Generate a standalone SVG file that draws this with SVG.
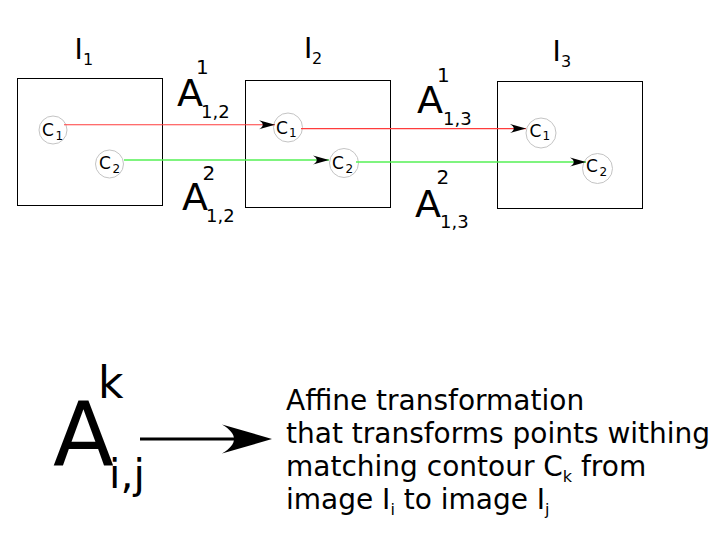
<svg xmlns="http://www.w3.org/2000/svg" width="715" height="556" viewBox="0 0 715 556">
<style>
text { font-family: "DejaVu Sans", "Liberation Sans", sans-serif; fill: #000; }
.box { fill: none; stroke: #000; stroke-width: 1; }
.ctr { fill: none; stroke: #c4c4c4; stroke-width: 1; }
.cl { font-size: 17px; }
.cs { font-size: 12px; }
.il { font-size: 28px; }
.is { font-size: 16px; }
.al { font-size: 38px; }
.as { font-size: 20px; }
.ab { font-size: 18px; }
.red { stroke: #ff3c3c; stroke-width: 1.1; fill: none; }
.grn { stroke: #55f055; stroke-width: 1.5; fill: none; }
.desc { font-size: 28px; }
.sub { font-size: 16px; }
</style>
<defs>
<marker id="ah" viewBox="-17 -5 18 10" markerWidth="18" markerHeight="10" refX="0" refY="0" orient="auto" markerUnits="userSpaceOnUse">
<path d="M0,0 L-16,-4.5 C-11,-1.5 -11,1.5 -16,4.5 Z" fill="#000"/>
</marker>
</defs>

<g id="image1">
<rect class="box" x="17.5" y="78.5" width="145" height="127"/>
<text class="il" x="74.5" y="59">I<tspan class="is" x="83" y="65">1</tspan></text>
</g>
<g id="image2">
<rect class="box" x="245.5" y="80.5" width="145" height="127"/>
<text class="il" x="304" y="58">I<tspan class="is" x="312" y="64">2</tspan></text>
</g>
<g id="image3">
<rect class="box" x="497.5" y="81.5" width="145" height="127"/>
<text class="il" x="552.5" y="61">I<tspan class="is" x="561" y="67">3</tspan></text>
</g>

<g id="c1-i1"><circle class="ctr" cx="53" cy="130" r="14"/><text class="cl" x="42" y="136">C<tspan class="cs" x="55.5" y="140">1</tspan></text></g>
<g id="c2-i1"><circle class="ctr" cx="109.5" cy="164" r="14"/><text class="cl" x="99" y="169">C<tspan class="cs" x="112.5" y="173">2</tspan></text></g>
<g id="c1-i2"><circle class="ctr" cx="288" cy="127.5" r="14.5"/><text class="cl" x="276" y="133.5">C<tspan class="cs" x="289" y="137">1</tspan></text></g>
<g id="c2-i2"><circle class="ctr" cx="344" cy="163" r="14.5"/><text class="cl" x="332" y="169">C<tspan class="cs" x="345.5" y="173">2</tspan></text></g>
<g id="c1-i3"><circle class="ctr" cx="541" cy="133" r="15"/><text class="cl" x="529.5" y="136.5">C<tspan class="cs" x="542.5" y="140">1</tspan></text></g>
<g id="c2-i3"><circle class="ctr" cx="597.5" cy="168.5" r="15"/><text class="cl" x="586" y="172">C<tspan class="cs" x="599.5" y="176">2</tspan></text></g>

<g id="connectors">
<line class="red" x1="64" y1="124.8" x2="275" y2="124.8" marker-end="url(#ah)"/>
<line class="red" x1="301" y1="128.6" x2="526" y2="128.6" marker-end="url(#ah)"/>
<line class="grn" x1="124" y1="160" x2="329" y2="160" marker-end="url(#ah)"/>
<line class="grn" x1="356" y1="162" x2="586" y2="162" marker-end="url(#ah)"/>
</g>

<g id="label-a1-12"><text class="al" x="177" y="106">A<tspan class="as" x="196" y="74">1</tspan><tspan class="ab" x="201" y="118">1,2</tspan></text></g>
<g id="label-a2-12"><text class="al" x="182" y="210">A<tspan class="as" x="202.5" y="180">2</tspan><tspan class="ab" x="206" y="221.5">1,2</tspan></text></g>
<g id="label-a1-13"><text class="al" x="417" y="113">A<tspan class="as" x="437" y="82">1</tspan><tspan class="ab" x="443" y="125">1,3</tspan></text></g>
<g id="label-a2-13"><text class="al" x="415" y="217">A<tspan class="as" x="436.5" y="184">2</tspan><tspan class="ab" x="440" y="228">1,3</tspan></text></g>

<g id="legend-symbol">
<text x="53" y="466" font-size="89">A<tspan x="98" y="398" font-size="44">k</tspan><tspan x="109" y="488" font-size="41">i,j</tspan></text>
</g>
<g id="legend-arrow">
<line x1="140" y1="439" x2="240" y2="439" stroke="#000" stroke-width="3"/>
<path d="M272,439 L222,424.5 C238,434 238,444 222,453.5 Z" fill="#000"/>
</g>
<g id="legend-text">
<text class="desc" x="286" y="410">Affine transformation</text>
<text class="desc" x="286" y="443">that transforms points withing</text>
<text class="desc" x="286" y="476">matching contour C<tspan class="sub" dy="6">k</tspan><tspan dy="-6"> from</tspan></text>
<text class="desc" x="286" y="509">image I<tspan class="sub" dy="6">i</tspan><tspan dy="-6"> to image I</tspan><tspan class="sub" dy="6">j</tspan></text>
</g>
</svg>
